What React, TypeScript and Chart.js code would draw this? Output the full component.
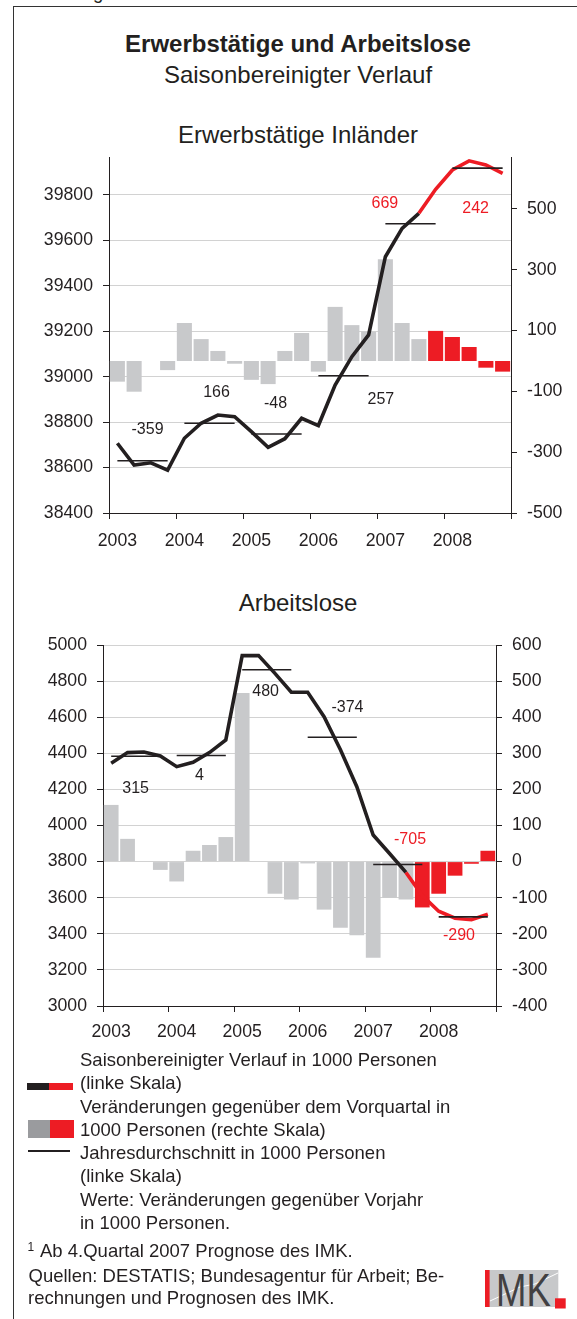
import React, { useEffect, useRef } from "react";
import { Chart, registerables } from "chart.js";

Chart.register(...registerables);

// ---------- data ----------
const years = ["2003", "2004", "2005", "2006", "2007", "2008"];
const quarters = years.flatMap((y) => ["Q1", "Q2", "Q3", "Q4"].map((q) => `${y} ${q}`));

// Erwerbstätige Inländer (1000 Personen)
const employedLevel = [
  38707, 38611, 38621, 38589, 38729, 38795, 38831, 38824, 38758, 38689, 38727, 38817,
  38785, 38963, 39088, 39184, 39528, 39653, 39719, 39825, 39910, 39950, 39932, 39895,
];
const employedChange = [
  -68, -101, 0, -30, 125, 72, 33, -9, -62, -76, 33, 92,
  -35, 178, 118, 96, 335, 125, 72, 99, 79, 46, -22, -35,
];
const employedAnnualAvg = [38630, 38795, 38748, 39004, 39673, 39918];
const employedAnnualChange = ["-359", "166", "-48", "257", "669", "242"];
const employedLabelAt = [1.8, 5.92, 9.44, 15.73, 15.97, 21.39];
const employedLabelLevel = [38765, 38930, 38880, 38900, 39761, 39741];

// Arbeitslose (1000 Personen)
const unemployedLevel = [
  4345, 4404, 4407, 4385, 4326, 4350, 4404, 4474, 4941, 4941, 4843, 4738,
  4738, 4603, 4420, 4215, 3947, 3845, 3740, 3612, 3525, 3486, 3478, 3508,
];
const unemployedChange = [
  157, 63, 0, -23, -55, 30, 46, 68, 467, 0, -89, -105,
  -5, -133, -183, -204, -266, -100, -105, -127, -89, -39, -6, 30,
];
const unemployedAnnualAvg = [4384, 4388, 4863, 4489, 3784, 3494];
const unemployedAnnualChange = ["315", "4", "480", "-374", "-705", "-290"];
const unemployedLabelAt = [1.49, 5.39, 9.43, 14.43, 18.25, 21.24];
const unemployedLabelLevel = [4206, 4275, 4741, 4652, 3921, 3391];

const forecastLineFrom = 18;
const forecastBarFrom = 19;
const forecastLabelFrom = 4;

// ---------- styles ----------
const FONT = "'Liberation Sans', Arial, Helvetica, sans-serif";
const INK = "#231f20";
const RED = "#ed1c24";
const BAR_GRAY = "#c8c9cb";
const GRID = "#d2d2d2";
const CLEAR = "rgba(0,0,0,0)";
const TICK_FONT = { family: FONT, size: 17.7 };

type Range = { min: number; max: number; step: number };
type Spec = {
  level: number[];
  change: number[];
  annual: number[];
  labels: string[];
  labelAt: number[];
  labelLevel: number[];
  left: Range;
  right: Range;
  leftWidth: number;
  rightWidth: number;
  bottomHeight: number;
  topPad: number;
  xPad: number;
};

function stepTicks(r: Range) {
  return (s: any) => {
    const t: { value: number }[] = [];
    for (let v = r.min; v <= r.max + 1e-9; v += r.step) t.push({ value: v });
    s.ticks = t;
  };
}

function buildChart(canvas: HTMLCanvasElement, spec: Spec) {
  const annualExpanded = quarters.map((_, i) => spec.annual[Math.floor(i / 4)]);
  const labelPlugin = {
    id: "annualLabels",
    afterDatasetsDraw(chart: any) {
      const { ctx, scales } = chart;
      ctx.save();
      ctx.font = `16px ${FONT}`;
      ctx.textAlign = "center";
      ctx.textBaseline = "middle";
      spec.labels.forEach((t, i) => {
        ctx.fillStyle = i >= forecastLabelFrom ? RED : INK;
        ctx.fillText(t, scales.x.getPixelForValue(spec.labelAt[i]), scales.yL.getPixelForValue(spec.labelLevel[i]));
      });
      ctx.restore();
    },
  };
  const fitY = (w: number) => (s: any) => {
    s.width = w;
    s.paddingTop = 0;
    s.paddingBottom = 0;
  };
  return new Chart(canvas, {
    type: "bar",
    data: {
      labels: quarters,
      datasets: [
        {
          type: "line",
          data: annualExpanded,
          yAxisID: "yL",
          borderColor: INK,
          borderWidth: 1.6,
          pointRadius: 0,
          tension: 0,
          segment: { borderColor: (c: any) => (c.p0DataIndex % 4 === 3 ? CLEAR : INK) },
          order: 0,
        } as any,
        {
          type: "line",
          data: spec.level,
          yAxisID: "yL",
          borderColor: INK,
          borderWidth: 3.6,
          pointRadius: 0,
          tension: 0,
          segment: { borderColor: (c: any) => (c.p0DataIndex >= forecastLineFrom ? RED : INK) },
          order: 1,
        } as any,
        {
          type: "bar",
          data: spec.change,
          yAxisID: "yR",
          backgroundColor: spec.change.map((_, i) => (i >= forecastBarFrom ? RED : BAR_GRAY)),
          barPercentage: 0.9,
          categoryPercentage: 1,
          order: 2,
        } as any,
      ],
    },
    options: {
      responsive: false,
      animation: false,
      devicePixelRatio: 1,
      layout: { padding: { top: spec.topPad, left: 0, right: 0, bottom: 0 } },
      plugins: { legend: { display: false }, tooltip: { enabled: false }, title: { display: false } },
      scales: {
        x: {
          type: "category",
          offset: true,
          grid: {
            offset: true,
            drawOnChartArea: false,
            drawTicks: true,
            tickLength: 6,
            tickWidth: 1,
            tickColor: (c: any) => ((c.index ?? 0) % 4 === 0 ? INK : CLEAR),
          },
          border: { display: true, color: INK, width: 1 },
          ticks: {
            autoSkip: false,
            maxRotation: 0,
            minRotation: 0,
            padding: spec.xPad,
            font: TICK_FONT,
            color: INK,
            callback: (_v: any, i: number) => (i % 4 === 0 ? years[i / 4] : ""),
          },
          afterFit: (s: any) => {
            s.height = spec.bottomHeight;
            s.paddingLeft = 0;
            s.paddingRight = 0;
          },
        },
        yL: {
          type: "linear",
          position: "left",
          min: spec.left.min,
          max: spec.left.max,
          afterBuildTicks: stepTicks(spec.left),
          ticks: { padding: 10, font: TICK_FONT, color: INK, callback: (v: any) => String(v) },
          grid: {
            color: (c: any) => (c.tick && c.tick.value === spec.left.min ? CLEAR : GRID),
            lineWidth: 1,
            tickLength: 6,
            tickColor: INK,
          },
          border: { display: true, color: INK, width: 1 },
          afterFit: fitY(spec.leftWidth),
        },
        yR: {
          type: "linear",
          position: "right",
          min: spec.right.min,
          max: spec.right.max,
          afterBuildTicks: stepTicks(spec.right),
          ticks: { padding: 10, font: TICK_FONT, color: INK, callback: (v: any) => String(v) },
          grid: { drawOnChartArea: false, tickLength: 6, tickColor: INK, lineWidth: 1 },
          border: { display: true, color: INK, width: 1 },
          afterFit: fitY(spec.rightWidth),
        },
      },
    } as any,
    plugins: [labelPlugin],
  });
}

const upperSpec: Spec = {
  level: employedLevel,
  change: employedChange,
  annual: employedAnnualAvg,
  labels: employedAnnualChange,
  labelAt: employedLabelAt,
  labelLevel: employedLabelLevel,
  left: { min: 38400, max: 39967, step: 200 },
  right: { min: -500, max: 671, step: 200 },
  leftWidth: 109,
  rightWidth: 66,
  bottomHeight: 37,
  topPad: 7,
  xPad: 11.5,
};

const lowerSpec: Spec = {
  level: unemployedLevel,
  change: unemployedChange,
  annual: unemployedAnnualAvg,
  labels: unemployedAnnualChange,
  labelAt: unemployedLabelAt,
  labelLevel: unemployedLabelLevel,
  left: { min: 3000, max: 5000, step: 200 },
  right: { min: -400, max: 600, step: 100 },
  leftWidth: 103,
  rightWidth: 81,
  bottomHeight: 44,
  topPad: 15,
  xPad: 9.5,
};

function Panel({ spec, top, height }: { spec: Spec; top: number; height: number }) {
  const ref = useRef<HTMLCanvasElement>(null);
  useEffect(() => {
    const chart = buildChart(ref.current as HTMLCanvasElement, spec);
    return () => chart.destroy();
  }, [spec]);
  return (
    <canvas
      ref={ref}
      width={577}
      height={height}
      style={{ position: "absolute", left: 0, top, width: 577, height }}
    />
  );
}

const abs = (s: React.CSSProperties): React.CSSProperties => ({ position: "absolute", ...s });

export default function App() {
  const legendLines = [
    "Saisonbereinigter Verlauf in 1000 Personen",
    "(linke Skala)",
    "Veränderungen gegenüber dem Vorquartal in",
    "1000 Personen (rechte Skala)",
    "Jahresdurchschnitt in 1000 Personen",
    "(linke Skala)",
    "Werte: Veränderungen gegenüber Vorjahr",
    "in 1000 Personen.",
  ];
  const text18: React.CSSProperties = { fontSize: 18.5, lineHeight: "23.3px", whiteSpace: "nowrap" };
  return (
    <div
      style={abs({
        left: 0,
        top: 0,
        width: 577,
        height: 1319,
        overflow: "hidden",
        background: "#fff",
        fontFamily: FONT,
        color: INK,
      })}
    >
      <div style={abs({ left: 93, top: -19.3, ...text18 })}>g</div>
      <div
        style={abs({
          left: 13,
          top: 5.5,
          width: 700,
          height: 1400,
          borderLeft: "1.5px solid #333",
          borderTop: "1.5px solid #333",
        })}
      />
      <div style={abs({ left: 13, width: 570, top: 32.4, textAlign: "center", fontSize: 24, lineHeight: "24px", fontWeight: "bold" })}>
        Erwerbstätige und Arbeitslose
      </div>
      <div style={abs({ left: 13, width: 570, top: 63, textAlign: "center", fontSize: 24, lineHeight: "24px" })}>
        Saisonbereinigter Verlauf
      </div>
      <div style={abs({ left: 13, width: 570, top: 123, textAlign: "center", fontSize: 24, lineHeight: "24px" })}>
        Erwerbstätige Inländer
      </div>
      <div style={abs({ left: 13, width: 570, top: 591.4, textAlign: "center", fontSize: 24, lineHeight: "24px" })}>
        Arbeitslose
      </div>

      <Panel spec={upperSpec} top={150} height={400} />
      <Panel spec={lowerSpec} top={630} height={420} />

      {/* legend symbols */}
      <div style={abs({ left: 27, top: 1082.7, width: 22, height: 7.3, background: INK })} />
      <div style={abs({ left: 49, top: 1082.7, width: 24, height: 7.3, background: RED })} />
      <div style={abs({ left: 28, top: 1120, width: 22, height: 17.7, background: "#9a9b9e" })} />
      <div style={abs({ left: 50, top: 1120, width: 23.6, height: 17.7, background: RED })} />
      <div style={abs({ left: 28, top: 1149.5, width: 42, height: 2, background: INK })} />

      <div style={abs({ left: 80, top: 1048 })}>
        {legendLines.map((l, i) => (
          <div key={i} style={text18}>
            {l}
          </div>
        ))}
      </div>

      <div style={abs({ left: 27.5, top: 1240.5, fontSize: 12, lineHeight: "12px" })}>1</div>
      <div style={abs({ left: 40, top: 1238.6, ...text18 })}>Ab 4.Quartal 2007 Prognose des IMK.</div>
      <div style={abs({ left: 28.5, top: 1264.2, ...text18 })}>Quellen: DESTATIS; Bundesagentur für Arbeit; Be-</div>
      <div style={abs({ left: 28, top: 1286, ...text18 })}>rechnungen und Prognosen des IMK.</div>

      <svg style={abs({ left: 485, top: 1269.7 })} width={84} height={42}>
        <rect x={0} y={0} width={73.3} height={37} fill="#c7c8ca" />
        <polyline points="5,31 35,17 50,14 73,3" fill="none" stroke="#ffffff" strokeWidth={1} />
        <rect x={0} y={0} width={4.6} height={37} fill={RED} />
        <text
          x={11}
          y={36.3}
          fontFamily={FONT}
          fontSize={47}
          fill="#414042"
          textLength={54.7}
          lengthAdjust="spacingAndGlyphs"
        >
          MK
        </text>
        <rect x={70} y={28.3} width={10.7} height={10.2} fill={RED} />
      </svg>
    </div>
  );
}
